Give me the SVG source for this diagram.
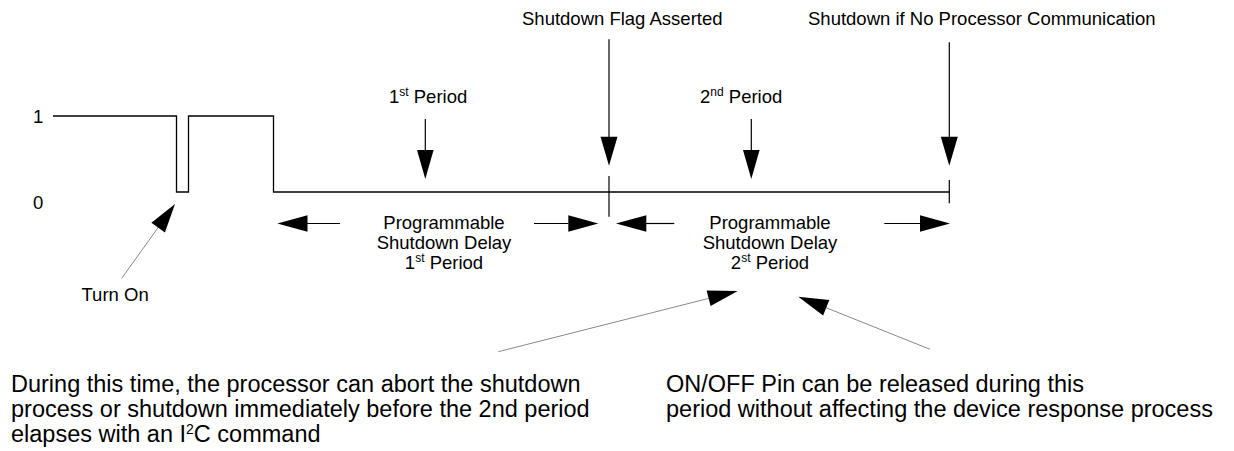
<svg xmlns="http://www.w3.org/2000/svg" width="1234" height="451" viewBox="0 0 1234 451">
<style>
text{font-family:"Liberation Sans",Arial,sans-serif;fill:#000}
.l{font-size:18.5px}
.b{font-size:23.5px}
.m{text-anchor:middle}
.sig{fill:none;stroke:#000;stroke-width:1.3}
.stem{stroke:#000;stroke-width:1.2;fill:none}
.g{stroke:#8a8a8a;stroke-width:1;fill:none}
.h{fill:#000}
</style>
<rect width="1234" height="451" fill="#fff"/>
<g id="axis-labels">
<text class="l" x="33" y="123">1</text>
<text class="l" x="33" y="209">0</text>
</g>
<g id="signal">
<polyline class="sig" points="53,116 176.5,116 176.5,192 188.5,192 188.5,116 273.5,116 273.5,192 949.3,192"/>
<line class="stem" x1="609" y1="176" x2="609" y2="216.7"/>
<line class="stem" x1="949.3" y1="180" x2="949.3" y2="203.3"/>
</g>
<g id="label-flag">
<text class="l" x="522" y="25">Shutdown Flag Asserted</text>
</g>
<g id="label-shutdown">
<text class="l" x="808" y="25">Shutdown if No Processor Communication</text>
</g>
<g id="label-period1">
<text class="l" x="389" y="103">1<tspan font-size="12" dy="-7">st</tspan><tspan dy="7"> Period</tspan></text>
</g>
<g id="label-period2">
<text class="l" x="700" y="103">2<tspan font-size="12" dy="-7">nd</tspan><tspan dy="7"> Period</tspan></text>
</g>
<g id="delay1">
<text class="l m" x="444" y="228.5">Programmable</text>
<text class="l m" x="444" y="248.5">Shutdown Delay</text>
<text class="l m" x="444" y="268.5">1<tspan font-size="12" dy="-7">st</tspan><tspan dy="7"> Period</tspan></text>
</g>
<g id="delay2">
<text class="l m" x="770" y="228.5">Programmable</text>
<text class="l m" x="770" y="248.5">Shutdown Delay</text>
<text class="l m" x="770" y="268.5">2<tspan font-size="12" dy="-7">st</tspan><tspan dy="7"> Period</tspan></text>
</g>
<g id="turn-on">
<text class="l" x="81.5" y="300.5">Turn On</text>
</g>
<g id="note-left">
<text class="b" x="11" y="391.5">During this time, the processor can abort the shutdown</text>
<text class="b" x="11" y="416.5">process or shutdown immediately before the 2nd period</text>
<text class="b" x="11" y="441.5">elapses with an I<tspan font-size="14" dy="-8">2</tspan><tspan dy="8">C command</tspan></text>
</g>
<g id="note-right">
<text class="b" x="666" y="391.5">ON/OFF Pin can be released during this</text>
<text class="b" x="666" y="416.5">period without affecting the device response process</text>
</g>
<g id="connectors">
<line class="stem" x1="425.3" y1="119" x2="425.3" y2="150"/>
<polygon class="h" points="417,150 433.6,150 425.3,179"/>
<line class="stem" x1="609" y1="39.3" x2="609" y2="137"/>
<polygon class="h" points="600.5,136.7 617.5,136.7 609,165.7"/>
<line class="stem" x1="751.3" y1="119" x2="751.3" y2="150"/>
<polygon class="h" points="743,150 759.6,150 751.3,179"/>
<line class="stem" x1="949.3" y1="42.3" x2="949.3" y2="137"/>
<polygon class="h" points="940.8,136.7 957.8,136.7 949.3,165.7"/>
<line class="stem" x1="307" y1="223.5" x2="340" y2="223.5"/>
<polygon class="h" points="277.3,223.5 307.5,215.2 307.5,231.8"/>
<line class="stem" x1="534" y1="223.5" x2="568.5" y2="223.5"/>
<polygon class="h" points="598.3,223.5 568.3,215.2 568.3,231.8"/>
<line class="stem" x1="646" y1="223.5" x2="674.3" y2="223.5"/>
<polygon class="h" points="616,223.5 646.3,215.2 646.3,231.8"/>
<line class="stem" x1="884.3" y1="223.5" x2="920.3" y2="223.5"/>
<polygon class="h" points="950,223.5 920,215.2 920,231.8"/>
<line class="g" x1="121.7" y1="278.3" x2="158.5" y2="227"/>
<polygon class="h" points="175,204 164.9,232.4 151.4,222.8"/>
<line class="g" x1="498.3" y1="351.7" x2="709" y2="298.3"/>
<polygon class="h" points="737.7,291 710.6,306.1 706.6,290.6"/>
<line class="g" x1="930" y1="349.3" x2="826" y2="307.7"/>
<polygon class="h" points="798.3,296.7 829.3,300.1 823.1,315.5"/>
</g>
</svg>
